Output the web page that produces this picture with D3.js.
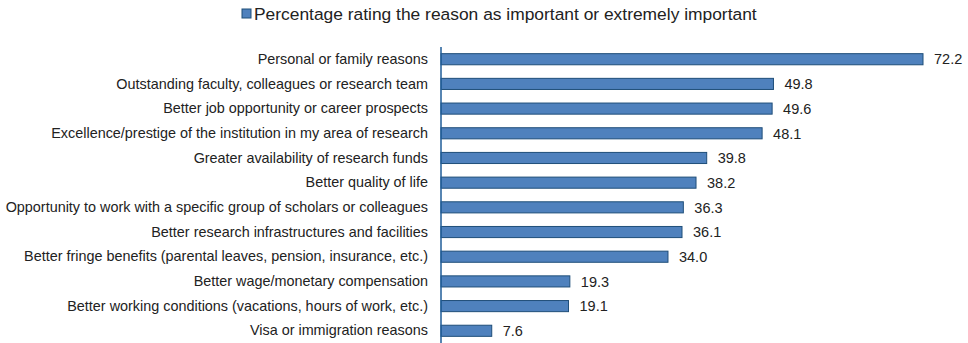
<!DOCTYPE html>
<html>
<head>
<meta charset="utf-8">
<script src="https://cdn.jsdelivr.net/npm/d3@7"></script>
<style>
  html, body { margin: 0; padding: 0; background: #fff; }
  svg { display: block; font-family: "Liberation Sans", Arial, sans-serif; }
</style>
</head>
<body>
<svg id="chart" width="968" height="343"></svg>
<script>
// Reasons for choosing a position, share rating each as important
const reasons = [
  "Personal or family reasons",
  "Outstanding faculty, colleagues or research team",
  "Better job opportunity or career prospects",
  "Excellence/prestige of the institution in my area of research",
  "Greater availability of research funds",
  "Better quality of life",
  "Opportunity to work with a specific group of scholars or colleagues",
  "Better research infrastructures and facilities",
  "Better fringe benefits (parental leaves, pension, insurance, etc.)",
  "Better wage/monetary compensation",
  "Better working conditions (vacations, hours of work, etc.)",
  "Visa or immigration reasons"
];
const shares = [72.2, 49.8, 49.6, 48.1, 39.8, 38.2, 36.3, 36.1, 34.0, 19.3, 19.1, 7.6];
const seriesName = "Percentage rating the reason as important or extremely important";

const svg = d3.select("#chart");
const plotLeft = 441, plotTop = 47, plotBottom = 343;

const x = d3.scaleLinear().domain([0, 72.2]).range([plotLeft, 923]);
const y = d3.scaleBand().domain(reasons).range([plotTop, plotBottom]).paddingInner(0.55).paddingOuter(0.27);

const rows = reasons.map((r, i) => ({ reason: r, value: shares[i] }));

// bars
svg.append("g").selectAll("rect").data(rows).join("rect")
  .attr("x", plotLeft)
  .attr("y", d => y(d.reason))
  .attr("width", d => x(d.value) - plotLeft)
  .attr("height", y.bandwidth())
  .attr("fill", "#4f81bd")
  .attr("stroke", "#1f4e79")
  .attr("stroke-width", 1);

// value labels
svg.append("g").selectAll("text").data(rows).join("text")
  .attr("x", d => x(d.value) + 11)
  .attr("y", d => y(d.reason) + y.bandwidth() / 2)
  .attr("dy", "0.36em")
  .attr("font-size", 14.5)
  .attr("fill", "#222")
  .text(d => d.value.toFixed(1));

// category axis
const yAxis = d3.axisLeft(y).tickSize(0).tickPadding(13);
const gy = svg.append("g").attr("transform", `translate(${plotLeft},0)`).call(yAxis);
gy.select(".domain").remove();
gy.selectAll("text").attr("font-size", 14.4).attr("fill", "#222")
  .attr("font-family", "'Liberation Sans', Arial, sans-serif");
svg.append("line")
  .attr("x1", plotLeft).attr("x2", plotLeft)
  .attr("y1", plotTop).attr("y2", plotBottom)
  .attr("stroke", "#1f5c99").attr("stroke-width", 1.5);

// legend
const lg = svg.append("g").attr("transform", "translate(242,9)");
lg.append("rect").attr("width", 9).attr("height", 9)
  .attr("fill", "#4f81bd").attr("stroke", "#1f4e79");
lg.append("text").attr("x", 12).attr("y", 4.5).attr("dy", "0.36em")
  .attr("font-size", 17.4).attr("fill", "#222").text(seriesName);
</script>
</body>
</html>
